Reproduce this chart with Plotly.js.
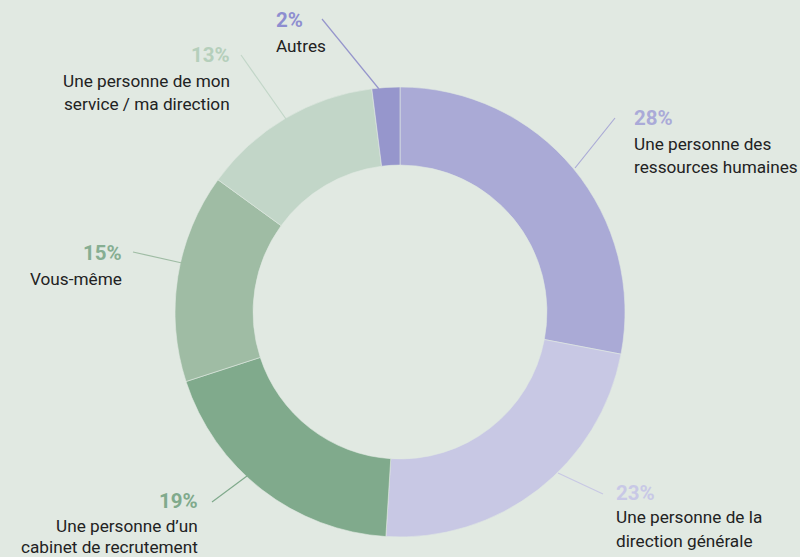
<!DOCTYPE html>
<html>
<head>
<meta charset="utf-8">
<script src="https://cdn.plot.ly/plotly-3.0.1.min.js"></script>
<style>
  html, body { margin: 0; padding: 0; background: #e1e9e2; }
  #chart { width: 800px; height: 557px; }
</style>
</head>
<body>
<div id="chart"></div>
<script>
// ---- data ----
const categories = [
  "Une personne des<br>ressources humaines",
  "Une personne de la<br>direction générale",
  "Une personne d’un<br>cabinet de recrutement",
  "Vous-même",
  "Une personne de mon<br>service / ma direction",
  "Autres"
];
const values = [28, 23, 19, 15, 13, 2];

// ---- styles ----
const sliceColors = ["#aaaad6", "#c8c8e4", "#80aa8c", "#9fbca4", "#c2d6c8", "#9696cc"];
const pctColors   = ["#aaaad8", "#c8c8e6", "#80aa8c", "#86ae92", "#b5cfbb", "#8e8ed0"];
const bg = "#e1e9e2";
const fontFamily = "Roboto, sans-serif";
const labelSize = 17.2, pctSize = 20.5;

// label placement (pixel positions in the 800x557 canvas)
// [textX, pctBaseline, firstLineBaseline, lineStep, anchor, lineStartX, lineStartY, lineEndX, lineEndY]
const labelPlacement = [
  [633, 125, 150, 23, "left",  575, 168, 615, 118],
  [615, 500, 523, 24, "left",  558, 473, 603, 494],
  [199, 508, 532, 21, "right", 247, 476, 212, 502],
  [123, 260, 285, 23, "right", 182, 263, 133, 252],
  [231, 62,  87,  23, "right", 286, 119, 241, 55],
  [275, 27,  52,  23, "left",  379, 89,  322, 19]
];

const W = 800, H = 557;
const px = x => x / W;
const py = y => 1 - y / H;
const mid = (baseline, size) => py(baseline - 0.36 * size);

const total = values.reduce((a, b) => a + b, 0);

const annotations = [];
const shapes = [];
values.forEach((v, i) => {
  const p = labelPlacement[i];
  const pct = Math.round(v / total * 100) + "%";
  annotations.push({
    xref: "paper", yref: "paper",
    x: px(p[0]), y: mid(p[1], pctSize),
    xanchor: p[4], yanchor: "middle", align: p[4],
    showarrow: false, borderpad: 0,
    text: "<b>" + pct + "</b>",
    font: { family: fontFamily, size: pctSize, color: pctColors[i] }
  });
  categories[i].split("<br>").forEach((line, k) => {
    annotations.push({
      xref: "paper", yref: "paper",
      x: px(p[0]), y: mid(p[2] + k * p[3], labelSize),
      xanchor: p[4], yanchor: "middle", align: p[4],
      showarrow: false, borderpad: 0,
      text: line,
      font: { family: fontFamily, size: labelSize, color: "#222222" }
    });
  });
  shapes.push({
    type: "line", xref: "paper", yref: "paper",
    x0: px(p[5]), y0: py(p[6]), x1: px(p[7]), y1: py(p[8]),
    line: { color: sliceColors[i], width: 1.2 }
  });
});

const cx = 400, cy = 312, R = 225;

const trace = {
  type: "pie",
  values: values,
  labels: categories,
  sort: false,
  direction: "clockwise",
  rotation: 0,
  hole: 0.653,
  textinfo: "none",
  hoverinfo: "label+percent",
  marker: { colors: sliceColors, line: { color: bg, width: 0.6 } },
  domain: { x: [px(cx - R), px(cx + R)], y: [py(cy + R), py(cy - R)] },
  showlegend: false
};

const layout = {
  width: W, height: H,
  margin: { l: 0, r: 0, t: 0, b: 0 },
  paper_bgcolor: bg,
  plot_bgcolor: bg,
  showlegend: false,
  annotations: annotations,
  shapes: shapes
};

Plotly.newPlot("chart", [trace], layout, { displayModeBar: false, staticPlot: true });
</script>
</body>
</html>
